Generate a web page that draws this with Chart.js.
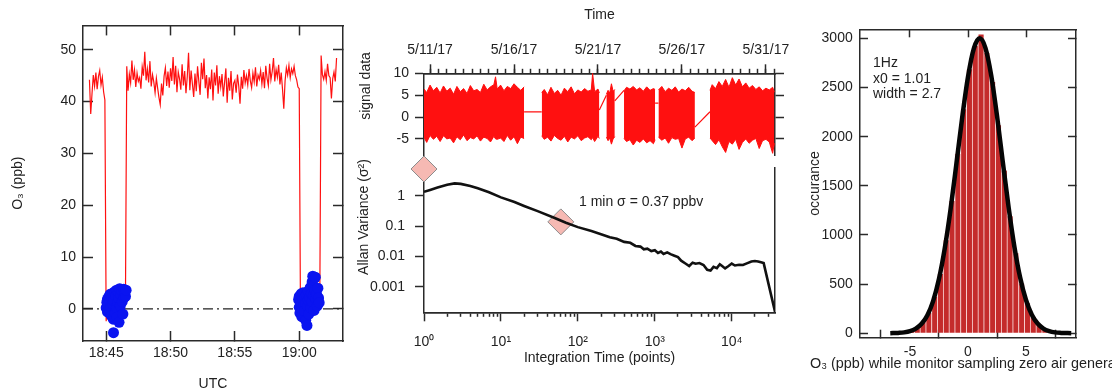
<!DOCTYPE html>
<html>
<head>
<meta charset="utf-8">
<title>Ozone monitor zero-air test</title>
<script src="https://cdn.jsdelivr.net/npm/chart.js@4.4.1/dist/chart.umd.min.js"></script>
<style>
  html, body { margin: 0; padding: 0; background: #fff; overflow: hidden; }
  #fig { position: relative; width: 1112px; height: 391px; overflow: hidden; }
  #fig canvas { position: absolute; }
  .note { position: absolute; font: 14px "Liberation Sans", Arial, sans-serif; color: #222; white-space: nowrap; line-height: 1; }
  .side { transform: translate(-50%, -50%) rotate(-90deg); }
</style>
</head>
<body>
<div id="fig">
  <canvas id="o3-chart" width="370" height="391" style="left:0;top:0;width:370px;height:391px"></canvas>
  <canvas id="signal-chart" width="450" height="170" style="left:350px;top:0;width:450px;height:170px"></canvas>
  <canvas id="allan-chart" width="450" height="251" style="left:350px;top:140px;width:450px;height:251px"></canvas>
  <canvas id="hist-chart" width="312" height="391" style="left:800px;top:0;width:312px;height:391px"></canvas>
  <div class="note side" style="left:365px;top:86px">signal data</div>
  <div class="note side" style="left:363px;top:217px">Allan Variance (σ²)</div>
  <div class="note" style="left:579px;top:194px">1 min σ = 0.37 ppbv</div>
  <div class="note" style="left:873px;top:55px;line-height:15.5px">1Hz<br>x0 = 1.01<br>width = 2.7</div>
  <div class="note" style="left:810px;top:356px;font-size:14.4px">O₃ (ppb) while monitor sampling zero air generator</div>
</div>
<script>
// ---- panel 1: O3 time series (minutes after 18:00) ----
const o3Start = 43.7;
const o3Step = 0.1;
const o3Values = [
  44.2, 37.6, 41.5, 45.1, 43.0, 45.6, 42.4, 44.8, 46.0, 43.2, 44.7, 41.9, 40.3,
  -2.4, 1.2, 2.0, -0.8, 2.6, 1.5, -2.6, 3.0, 0.9, 2.2, 3.4, 0.6, 1.8, 2.9, 3.6, 2.4,
  46.8, 42.1, 45.3, 43.6,
  47.9, 44.2, 46.1, 42.8, 45.5, 43.9, 44.6, 42.5, 46.7, 45.0,
  49.6, 44.1, 46.3, 43.7, 47.8, 42.9, 45.2, 43.8, 41.7, 44.5,
  42.6, 40.8, 39.4, 43.5, 41.2, 44.9, 46.5, 43.0, 45.8, 42.7,
  46.4, 44.0, 48.6, 43.3, 46.9, 41.8, 45.7, 44.4, 42.3, 47.2,
  43.1, 45.9, 41.6, 44.8, 49.4, 42.2, 46.0, 43.4, 40.9, 45.4,
  42.0, 46.8, 43.9, 41.3, 47.5, 44.3, 48.3, 42.6, 45.1, 40.6,
  44.7, 42.4, 46.2, 40.2, 45.6, 43.1, 47.0, 41.5, 44.9, 42.8,
  45.3, 41.0, 43.7, 46.4, 39.8, 44.6, 42.1, 45.9, 40.4, 43.5,
  44.1, 41.7, 45.2, 43.0, 39.6, 44.8, 42.5, 46.1, 43.6, 45.0,
  43.2, 46.3, 44.0, 42.7, 45.5, 43.8, 46.6, 42.9, 45.1, 44.3,
  46.0, 43.4, 45.7, 42.6, 46.9, 44.5, 43.1, 47.3, 44.2, 45.8,
  48.4, 43.9, 46.2, 44.7, 47.1, 43.3, 45.6, 42.4, 38.6, 44.0,
  46.5, 45.1, 47.0, 44.6, 46.3, 45.4, 46.8, 45.0, 44.2, 42.8,
  42.5,
  -2.5, 0.8, 2.1, -1.2, 1.6, 3.1, 0.4, 2.7, -0.6, 4.2, 1.9, 5.6, 2.8, 3.9, 1.3, 2.6,
  48.9, 45.2, 44.3, 45.8, 44.1, 47.3, 45.0, 44.6, 40.6, 44.4, 45.7, 43.9, 48.4
];
const zeroTime = [
  45.0, 45.05, 45.1, 45.1, 45.15, 45.2, 45.25, 45.3, 45.3, 45.35, 45.4, 45.45, 45.5, 45.5,
  45.55, 45.57, 45.6, 45.65, 45.7, 45.75, 45.8, 45.8, 45.85, 45.9, 45.95, 46.0, 46.0, 46.05,
  46.1, 46.15, 46.2, 46.25, 46.3, 46.35, 46.4, 46.45, 46.5, 46.55,
  59.95, 60.0, 60.0, 60.05, 60.1, 60.15, 60.2, 60.2, 60.25, 60.3, 60.35, 60.4, 60.45, 60.5,
  60.5, 60.55, 60.6, 60.65, 60.7, 60.7, 60.75, 60.8, 60.85, 60.9, 60.95, 61.0, 61.0, 61.05,
  61.1, 61.1, 61.15, 61.2, 61.25, 61.3, 61.35, 61.4, 61.45, 61.5, 61.55
];
const zeroO3 = [
  0.2, 1.3, -0.6, 1.9, 0.8, 2.3, -0.2, 1.5, 2.8, 0.4, -1.3, 2.1, 3.0, 0.9,
  -2.0, -4.6, 1.6, 3.3, -0.8, 2.5, 3.6, 0.3, -1.6, 1.2, 3.2, 2.0, -2.6, 3.9,
  0.6, 2.7, 3.5, 1.4, -1.0, 3.8, 2.2, 3.1, 2.4, 3.6,
  1.8, 0.3, 2.4, -0.8, 1.2, 2.9, 0.0, -1.5, 1.9, 3.1, 0.7, -0.4, 2.3, 1.0,
  -2.2, 2.7, -3.2, 0.5, 1.7, 3.4, -1.0, 2.2, 4.1, 0.2, 3.0, 5.2, 1.4, 6.3,
  2.6, 4.4, -0.3, 3.6, 6.1, 1.9, 2.8, 0.6, 4.0, 2.1, 1.2
];
const utcRange = [43.2, 63.4];
const utcTicks = [45, 50, 55, 60];
const utcLabels = ["18:45", "18:50", "18:55", "19:00"];
const o3Range = [-6.2, 54.7];
const o3Ticks = [0, 10, 20, 30, 40, 50];

// ---- panel 2 top: signal data (days after 5/11/17) ----
const sigDay = [
  -0.36, -0.2, 0, 0.2, 0.4, 0.6, 0.8, 1, 1.2, 1.4, 1.6, 1.8, 2, 2.2, 2.4, 2.6, 2.8, 3, 3.2, 3.4, 3.6, 3.8, 3.9, 4, 4.2, 4.4, 4.6, 4.8, 5, 5.2, 5.4, 5.6,
  6.1,
  6.65, 6.8, 7, 7.2, 7.4, 7.6, 7.8, 8, 8.2, 8.4, 8.6, 8.8, 9, 9.2, 9.4, 9.6, 9.68, 9.8, 10, 10.08,
  10.3,
  10.5, 10.6, 10.7, 10.8, 10.9, 11.0,
  11.3,
  11.55, 11.7, 11.9, 12.1, 12.3, 12.5, 12.7, 12.9, 13.1, 13.3, 13.4,
  13.5,
  13.6, 13.8, 14, 14.2, 14.4, 14.6, 14.8, 15, 15.2, 15.4, 15.6, 15.77,
  16.2,
  16.67, 16.8, 17, 17.2, 17.4, 17.6, 17.8, 18, 18.2, 18.4, 18.6, 18.8, 19, 19.2, 19.4, 19.6, 19.8, 20, 20.2, 20.4, 20.5
];
const sigHi = [
  6.4, 5.6, 7.3, 6.0, 6.8, 5.5, 7.1, 5.9, 6.6, 5.2, 7.0, 5.8, 6.5, 5.4, 7.2, 6.0, 6.3, 5.6, 7.5, 6.2, 6.9, 7.4, 9.2, 6.4, 7.3, 6.0, 7.0, 6.5, 7.6, 6.8, 6.1, 6.9,
  null,
  5.6, 6.3, 5.1, 6.8, 5.4, 6.1, 5.0, 6.6, 5.8, 6.9, 5.3, 6.2, 5.7, 6.5, 5.9, 6.2, 10.0, 5.8, 6.4, 5.5,
  null,
  5.2, 6.1, 5.5, 7.6, 5.9, 6.3,
  null,
  6.0, 6.8, 6.4, 7.0, 6.2, 6.7, 5.9, 6.9, 6.1, 6.5, 6.3,
  null,
  6.2, 7.0, 5.8, 6.6, 6.1, 6.9, 5.7, 6.4, 6.0, 6.8, 5.9, 5.6,
  null,
  6.1, 7.4, 6.5, 8.1, 7.0, 8.6, 6.8, 9.0, 7.3, 8.7, 6.9, 7.8, 6.6, 7.2, 6.3, 6.9, 6.0, 6.6, 6.2, 6.8, 5.7
];
const sigLo = [
  -4.6, -5.8, -4.2, -5.1, -4.4, -5.6, -4.3, -5.0, -4.8, -5.9, -4.5, -5.2, -4.1, -5.4, -4.7, -5.0, -4.3, -5.5, -4.6, -4.9, -5.7, -4.4, -5.0, -5.1, -4.8, -5.6, -4.2, -5.3, -4.5, -6.1, -4.6, -4.9,
  null,
  -4.3, -5.1, -4.6, -5.5, -4.2, -4.9, -5.3, -4.4, -5.7, -4.6, -5.0, -4.3, -5.4, -4.8, -4.5, -5.2, -4.7, -5.6, -4.4, -4.9,
  null,
  -4.6, -5.4, -4.8, -6.2, -5.0, -4.5,
  null,
  -4.9, -5.6, -5.2, -6.4, -5.3, -5.8, -5.0, -5.9, -5.4, -6.1, -5.2,
  null,
  -4.6, -5.3, -4.8, -6.0, -4.7, -5.1, -4.9, -7.1, -5.0, -4.6, -5.4, -4.8,
  null,
  -4.8, -5.4, -6.3, -5.2, -6.8, -8.1, -5.6, -6.2, -5.1, -7.4, -5.8, -5.0, -6.0, -5.3, -4.9, -7.2, -5.4, -5.1, -5.7, -8.3, -6.0
];
const linkDay = [5.6, 6.65, 8, 10.08, 10.5, 10.8, 11.0, 11.55, 12, 13.4, 13.6, 14, 15.77, 16.67];
const linkVal = [1.2, 1.2, null, 1.6, 5.0, null, 3.7, 6.1, null, 3.2, 3.2, null, -2.3, 1.2];
const dayRange = [-0.36, 20.54];
const dateTicks = [0, 5, 10, 15, 20];
const dateLabels = ["5/11/17", "5/16/17", "5/21/17", "5/26/17", "5/31/17"];
const sigRange = [-8.82, 10];
const sigTicks = [-5, 0, 5, 10];

// ---- panel 2 bottom: Allan variance ----
const allanN = [1, 1.2, 1.5, 2, 2.5, 3, 4, 5, 7, 10, 15, 20, 30, 50, 70, 100, 150, 200, 260, 320, 400, 480, 560, 650, 720, 800, 900, 1000, 1100, 1200, 1300, 1450, 1600, 1800, 2000, 2200, 2500, 2800, 3100, 3400, 3800, 4300, 4800, 5300, 5800, 6400, 7000, 7500, 8200, 9000, 10000, 11000, 12500, 14000, 16000, 18000, 20000, 22000, 24000, 26000, 36500];
const allanVar = [1.35, 1.55, 1.85, 2.3, 2.55, 2.45, 2.1, 1.75, 1.3, 0.88, 0.62, 0.46, 0.31, 0.185, 0.128, 0.092, 0.068, 0.054, 0.043, 0.038, 0.030, 0.028, 0.022, 0.021, 0.017, 0.018, 0.015, 0.016, 0.013, 0.0145, 0.012, 0.0135, 0.0118, 0.0105, 0.0095, 0.0072, 0.0058, 0.0048, 0.0062, 0.0057, 0.0060, 0.0052, 0.0036, 0.0034, 0.0045, 0.0041, 0.0055, 0.0048, 0.0040, 0.0047, 0.0058, 0.0050, 0.0053, 0.0052, 0.0060, 0.0068, 0.0070, 0.0068, 0.0064, 0.0060, 0.00015];
const markN = [1, 60];
const markVar = [7.6, 0.137];
const nRange = [1, 36500];
const nTicks = [1, 10, 100, 1000, 10000];
const nLabels = ["10⁰", "10¹", "10²", "10³", "10⁴"];
const varRange = [0.000143, 8.2];
const varTicks = [0.001, 0.01, 0.1, 1];
const varLabels = ["0.001", "0.01", "0.1", "1"];

// ---- panel 3: histogram of zero-air readings ----
const histBin = [-5.9, -5.4, -4.9, -4.4, -3.9, -3.4, -2.9, -2.4, -1.9, -1.4, -0.9, -0.4, 0.1, 0.6, 1.1, 1.6, 2.1, 2.6, 3.1, 3.6, 4.1, 4.6, 5.1, 5.6, 6.1, 6.6, 7.1, 7.6, 8.1, 8.6];
const histCount = [4, 11, 26, 52, 112, 205, 372, 604, 945, 1346, 1826, 2279, 2685, 2925, 3040, 2852, 2556, 2115, 1655, 1190, 815, 506, 305, 164, 88, 40, 20, 8, 3, 1];
const fitX = [-6.7, -6, -5.5, -5, -4.5, -4, -3.5, -3, -2.5, -2, -1.5, -1, -0.5, 0, 0.5, 1, 1.5, 2, 2.5, 3, 3.5, 4, 4.5, 5, 5.5, 6, 6.5, 7, 7.5, 8, 8.9];
const fitY = [1, 4, 9, 21, 47, 96, 184, 330, 554, 866, 1264, 1724, 2194, 2608, 2895, 3000, 2903, 2623, 2212, 1743, 1282, 880, 564, 338, 189, 99, 48, 22, 9, 4, 1];
const ppbRange = [-9.31, 9.31];
const ppbTicks = [-5, 0, 5];
const countRange = [-45, 3092];
const countTicks = [0, 500, 1000, 1500, 2000, 2500, 3000];

Chart.defaults.font.family = '"Liberation Sans", Arial, Helvetica, sans-serif';
Chart.defaults.font.size = 14;
Chart.defaults.color = "#222";
Chart.defaults.animation = false;
Chart.defaults.plugins.legend.display = false;
Chart.defaults.plugins.tooltip.enabled = false;

const AXIS = "#2a2a2a";
const setTicks = (vals) => (scale) => { scale.ticks = vals.map((v) => ({ value: v })); };
const setW = (w) => (scale) => { scale.width = w; };
const setH = (h) => (scale) => { scale.height = h; };
const pair = (xs, ys) => xs.map((x, i) => ({ x, y: ys[i] }));

// one framed axis: ticks drawn by the library, tl < 0 means ticks point inward
const frame = (extra, tl, size, horizontal) => Object.assign({
  grid: { drawOnChartArea: false, tickLength: tl, tickWidth: 1.5, tickColor: AXIS },
  border: { color: AXIS, width: 1.5 },
  afterFit: horizontal ? setH(size) : setW(size),
}, extra);
const hidden = { display: false };

// panel 1 (lower order is drawn on top)
new Chart(document.getElementById("o3-chart"), {
  type: "line",
  data: {
    datasets: [
      {
        data: o3Values.map((v, i) => ({ x: o3Start + i * o3Step, y: v })),
        borderColor: "#ff1010",
        borderWidth: 1.2,
        pointRadius: 0,
        order: 3,
      },
      {
        data: pair(utcRange, [0, 0]),
        borderColor: "#222",
        borderWidth: 1.4,
        borderDash: [10, 4, 2, 4],
        pointRadius: 0,
        order: 2,
      },
      {
        data: pair(zeroTime, zeroO3),
        showLine: false,
        pointRadius: 5.5,
        pointBackgroundColor: "#0a14f0",
        pointBorderWidth: 0,
        order: 1,
      },
    ],
  },
  options: {
    responsive: false,
    devicePixelRatio: 1,
    scales: {
      x: frame({
        type: "linear", position: "bottom", min: utcRange[0], max: utcRange[1],
        afterBuildTicks: setTicks(utcTicks),
        ticks: { padding: 13.6, maxRotation: 0, autoSkip: false, callback: (v, i) => utcLabels[i] },
        title: { display: true, text: "UTC", padding: { top: 0, bottom: -2 } },
      }, -10, 50, true),
      xTop: frame({
        type: "linear", position: "top", min: utcRange[0], max: utcRange[1],
        afterBuildTicks: setTicks(utcTicks), ticks: hidden,
      }, -10, 20, true),
      y: frame({
        type: "linear", position: "left", min: o3Range[0], max: o3Range[1],
        afterBuildTicks: setTicks(o3Ticks),
        ticks: { padding: 17, callback: (v) => String(v) },
        title: { display: true, text: "O₃ (ppb)", padding: { top: 9.6, bottom: 0 } },
      }, -10, 83, false),
      yRight: frame({
        type: "linear", position: "right", min: o3Range[0], max: o3Range[1],
        afterBuildTicks: setTicks(o3Ticks), ticks: hidden,
      }, -10, 27, false),
    },
  },
});

// panel 2 top
const halfDays = [];
for (let d = 0; d <= 20.5; d += 0.5) halfDays.push(d);

new Chart(document.getElementById("signal-chart"), {
  type: "line",
  data: {
    datasets: [
      {
        data: pair(sigDay, sigHi),
        borderColor: "#ff1010",
        backgroundColor: "#ff1010",
        borderWidth: 1,
        pointRadius: 0,
        fill: "+1",
      },
      {
        data: pair(sigDay, sigLo),
        borderColor: "#ff1010",
        borderWidth: 1,
        pointRadius: 0,
        fill: false,
      },
      {
        data: pair(linkDay, linkVal),
        borderColor: "#ff1010",
        borderWidth: 1.2,
        pointRadius: 0,
      },
    ],
  },
  options: {
    responsive: false,
    devicePixelRatio: 1,
    layout: { padding: { bottom: 8 } },
    scales: {
      x: frame({
        type: "linear", position: "top", weight: 1, min: dayRange[0], max: dayRange[1],
        afterBuildTicks: setTicks(dateTicks),
        ticks: { padding: 5.9, maxRotation: 0, autoSkip: false, callback: (v, i) => dateLabels[i] },
        title: { display: true, text: "Time", padding: { top: 6.6, bottom: 0 } },
      }, 9, 73.3, true),
      xMinor: frame({
        type: "linear", position: "top", weight: 0, min: dayRange[0], max: dayRange[1],
        afterBuildTicks: setTicks(halfDays), ticks: hidden,
      }, 4.5, 0, true),
      y: frame({
        type: "linear", position: "left", min: sigRange[0], max: sigRange[1],
        afterBuildTicks: setTicks(sigTicks),
        ticks: { padding: 6, callback: (v) => String(v) },
      }, 9, 74, false),
      yRight: frame({
        type: "linear", position: "right", min: sigRange[0], max: sigRange[1],
        afterBuildTicks: setTicks(sigTicks), ticks: hidden,
      }, 9, 25, false),
    },
  },
});

// panel 2 bottom
const minorN = [];
for (let dec = 1; dec <= 10000; dec *= 10) {
  for (let m = 2; m <= 9; m++) if (m * dec < nRange[1]) minorN.push(m * dec);
}

new Chart(document.getElementById("allan-chart"), {
  type: "line",
  data: {
    datasets: [
      {
        data: pair(allanN, allanVar),
        borderColor: "#111",
        borderWidth: 2.6,
        pointRadius: 0,
      },
      {
        data: pair(markN, markVar),
        showLine: false,
        pointStyle: "rectRot",
        pointRadius: 13,
        pointBackgroundColor: "#f6b9b3",
        pointBorderColor: "#8c8c8c",
        pointBorderWidth: 1,
        clip: false,
      },
    ],
  },
  options: {
    responsive: false,
    devicePixelRatio: 1,
    layout: { padding: { top: 28 } },
    scales: {
      x: frame({
        type: "logarithmic", position: "bottom", weight: 1, min: nRange[0], max: nRange[1],
        afterBuildTicks: setTicks(nTicks),
        ticks: { padding: 12, maxRotation: 0, autoSkip: false, callback: (v, i) => nLabels[i] },
        title: { display: true, text: "Integration Time (points)", padding: { top: 0, bottom: 24.6 } },
      }, 9, 78.7, true),
      xMinor: frame({
        type: "logarithmic", position: "bottom", weight: 0, min: nRange[0], max: nRange[1],
        afterBuildTicks: setTicks(minorN), ticks: hidden,
      }, 4.5, 0, true),
      y: frame({
        type: "logarithmic", position: "left", min: varRange[0], max: varRange[1],
        afterBuildTicks: setTicks(varTicks),
        ticks: { padding: 10, autoSkip: false, callback: (v, i) => varLabels[i] },
      }, 9, 74, false),
      yRight: {
        type: "logarithmic", position: "right", min: varRange[0], max: varRange[1],
        grid: { display: false }, ticks: hidden,
        border: { color: AXIS, width: 1.5 },
        afterFit: setW(25),
      },
    },
  },
});

// panel 3
new Chart(document.getElementById("hist-chart"), {
  type: "line",
  data: {
    datasets: [
      {
        type: "line",
        data: pair(fitX, fitY),
        borderColor: "#050505",
        borderWidth: 4.5,
        pointRadius: 0,
        cubicInterpolationMode: "monotone",
      },
      {
        type: "bar",
        data: pair(histBin, histCount),
        backgroundColor: "#c42b2b",
        borderColor: "rgba(255, 205, 205, 0.35)",
        borderWidth: { left: 1, right: 0, top: 0, bottom: 0 },
        borderSkipped: false,
        categoryPercentage: 1,
        barPercentage: 1,
        grouped: false,
      },
    ],
  },
  options: {
    responsive: false,
    devicePixelRatio: 1,
    scales: {
      x: frame({
        type: "linear", position: "bottom", min: ppbRange[0], max: ppbRange[1], offset: false,
        afterBuildTicks: setTicks(ppbTicks),
        ticks: { padding: 13.6, maxRotation: 0, autoSkip: false, callback: (v) => String(v) },
      }, -8, 53.3, true),
      xTop: frame({
        type: "linear", position: "top", min: ppbRange[0], max: ppbRange[1],
        afterBuildTicks: setTicks(ppbTicks), ticks: hidden,
      }, -8, 29.3, true),
      y: frame({
        type: "linear", position: "left", min: countRange[0], max: countRange[1],
        afterBuildTicks: setTicks(countTicks),
        ticks: { padding: 15.3, autoSkip: false, callback: (v) => String(v) },
        title: { display: true, text: "occurance", padding: { top: 6.6, bottom: 0 } },
      }, -8, 60, false),
      yRight: frame({
        type: "linear", position: "right", min: countRange[0], max: countRange[1],
        afterBuildTicks: setTicks(countTicks), ticks: hidden,
      }, -8, 36, false),
    },
  },
});
</script>
</body>
</html>
